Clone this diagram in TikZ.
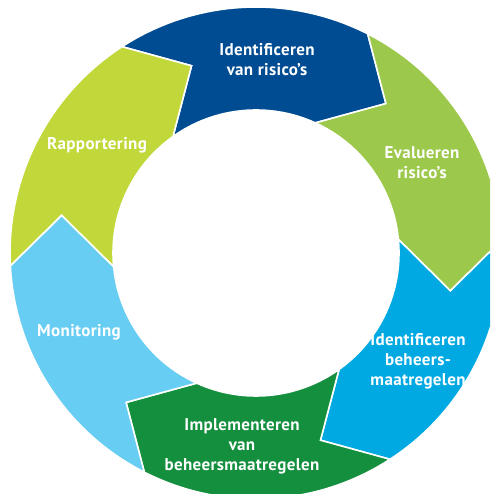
\documentclass[tikz,border=0pt]{standalone}
\usepackage{fontspec}
\setmainfont{PT Sans}[LetterSpace=2]
\definecolor{cDarkBlue}{HTML}{004C93}
\definecolor{cGreen}{HTML}{9CC94B}
\definecolor{cCyan}{HTML}{00A9E2}
\definecolor{cDarkGreen}{HTML}{138F3E}
\definecolor{cLightBlue}{HTML}{68CDF2}
\definecolor{cYellow}{HTML}{C2D83A}
\tikzset{
  seg/.style={fill=#1, draw=white, line width=1.6pt, line join=miter},
  lbl/.style={text=white, font=\bfseries\fontsize{17}{20}\selectfont, align=center, inner sep=0pt}
}
\begin{document}
\begin{tikzpicture}[x=1pt,y=1pt]
\useasboundingbox (0,0) rectangle (490,494);
\clip (0,0) rectangle (490,494);
\coordinate (c) at (256,241);
\begin{scope}[shift={(c)}]
\foreach \k/\col in {0/cDarkBlue,1/cGreen,2/cCyan,3/cDarkGreen,4/cLightBlue,5/cYellow}{
  \pgfmathsetmacro{\t}{49-60*\k}
  \pgfmathsetmacro{\aOa}{\t+74}
  \pgfmathsetmacro{\aOb}{\t+14}
  \pgfmathsetmacro{\aIa}{\t+16.5}
  \pgfmathsetmacro{\aIb}{\t+76.5}
  \pgfmathsetmacro{\aN}{\t+60}
  \path[seg=\col] (\aOa:246) arc[start angle=\aOa, end angle=\aOb, radius=246]
     -- (\t:198) -- (\aIa:143) arc[start angle=\aIa, end angle=\aIb, radius=143]
     -- (\aN:198) -- cycle;
}
\end{scope}
\node[lbl] (n1) at (267,434) {Identificeren\\van risico’s};
\node[lbl] (n2) at (422,331) {Evalueren\\risico’s};
\node[lbl] (n3) at (418,133) {Identificeren\\beheers-\\maatregelen};
\node[lbl] (n4) at (242,48) {Implementeren\\van\\beheersmaatregelen};
\node[lbl] (n5) at (79,162) {Monitoring};
\node[lbl] (n6) at (97,349) {Rapportering};
\end{tikzpicture}
\end{document}
